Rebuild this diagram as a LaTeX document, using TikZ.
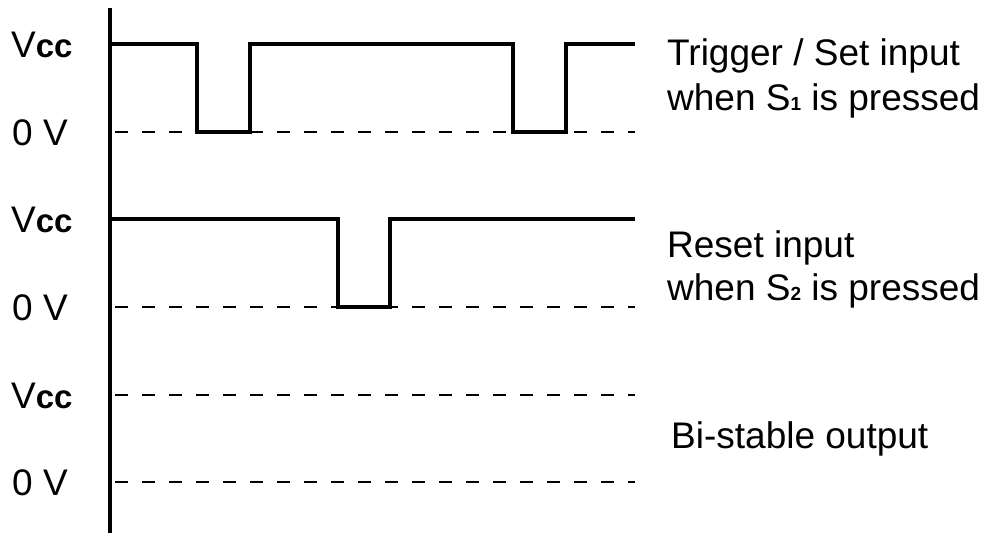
\documentclass[tikz,border=0pt]{standalone}
\usepackage{fontspec}
\setmainfont{Liberation Sans}
\newcommand{\vccsub}{{\fontsize{33}{33}\selectfont\bfseries cc}}
\begin{document}
\begin{tikzpicture}[x=1pt,y=-1pt,
  lbl/.style={anchor=base west,inner sep=0pt,font=\fontsize{37}{44}\selectfont},
  wave/.style={line width=3.2pt,line join=miter},
  ref/.style={line width=1.8pt,dash pattern=on 13pt off 14pt,dash phase=-5pt},
  axisline/.style={line width=3.2pt}]
\useasboundingbox (0,0) rectangle (989,533);
% axis
\coordinate (atop) at (110,8);
\coordinate (abot) at (110,533);
\draw[axisline] (atop) -- (abot);
% reference levels
\foreach \n/\y in {h1/44,l1/132,h2/219,l2/307,h3/395,l3/482}{
  \coordinate (\n s) at (110,\y);
  \coordinate (\n e) at (635,\y);
}
\draw[ref] (l1s) -- (l1e);
\draw[ref] (l2s) -- (l2e);
\draw[ref] (h3s) -- (h3e);
\draw[ref] (l3s) -- (l3e);
% waveform 1
\draw[wave] (h1s) -- (197,44) -- (197,132) -- (250,132) -- (250,44) -- (513,44) -- (513,132) -- (566,132) -- (566,44) -- (h1e);
% waveform 2
\draw[wave] (h2s) -- (338,219) -- (338,307) -- (390,307) -- (390,219) -- (h2e);
% level labels
\node[lbl] (v1) at (11,57) {V\vccsub};
\node[lbl] (z1) at (12,145) {0 V};
\node[lbl] (v2) at (11,232) {V\vccsub};
\node[lbl] (z2) at (12,320) {0 V};
\node[lbl] (v3) at (11,408) {V\vccsub};
\node[lbl] (z3) at (12,495) {0 V};
% descriptions
\node[lbl] (d1a) at (667,65) {Trigger / Set input};
\node[lbl] (d1b) at (667,110) {when S{\fontsize{19}{19}\bfseries 1} is pressed};
\node[lbl] (d2a) at (667,257) {Reset input};
\node[lbl] (d2b) at (667,300) {when S{\fontsize{19}{19}\bfseries 2} is pressed};
\node[lbl] (d3) at (671,448) {Bi-stable output};
\end{tikzpicture}
\end{document}
